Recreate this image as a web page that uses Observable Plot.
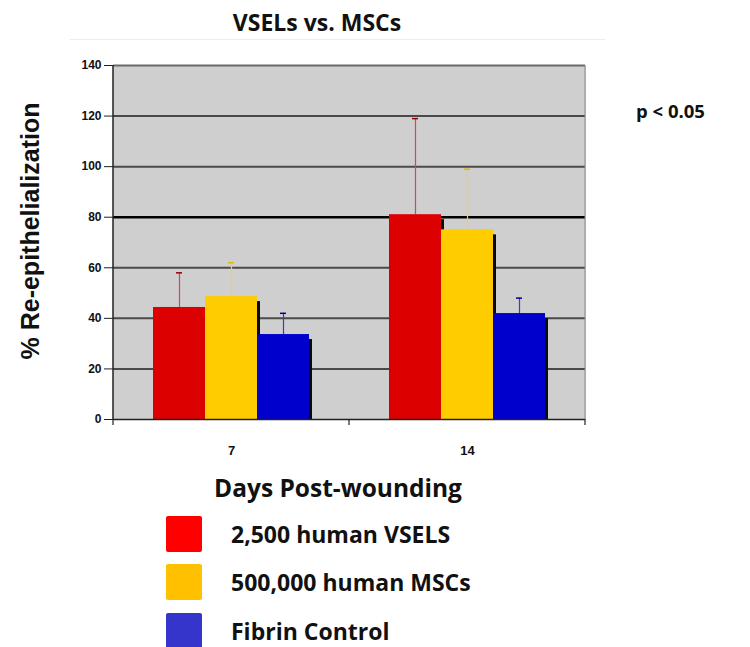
<!DOCTYPE html>
<html>
<head>
<meta charset="utf-8">
<script src="https://cdn.jsdelivr.net/npm/d3@7"></script>
<script src="https://cdn.jsdelivr.net/npm/@observablehq/plot@0.6"></script>
<style>
  html, body { margin: 0; padding: 0; background: #fff; }
  #wrap { position: relative; width: 750px; height: 647px; overflow: hidden; }
  #wrap svg { position: absolute; left: 0; top: 0; }
  .t { position: absolute; font-family: "Open Sans", sans-serif; font-weight: 700; color: #111; white-space: nowrap; }
  .sw { position: absolute; width: 36px; height: 36px; border-radius: 2px; }
</style>
</head>
<body>
<div id="wrap"></div>
<script>
// ---- data ----
const days = ["7", "14"];
const series = ["2,500 human VSELS", "500,000 human MSCs", "Fibrin Control"];
const values7 = [44.3, 48.6, 33.6];
const values14 = [81, 75, 41.9];
const errTop7 = [58, 62, 42];
const errTop14 = [119, 99, 48];
const yTicks = [0, 20, 40, 60, 80, 100, 120, 140];
const barColors = ["#dd0000", "#ffcc00", "#0000cc"];
const errColors = ["#d84848", "#f2d24a", "#3a3ad0"];
const capColors = ["#990000", "#e0b800", "#000099"];
const legendColors = ["#ff0000", "#ffc000", "#3535cc"];

const rows = [];
days.forEach((d, di) => {
  const vals = di === 0 ? values7 : values14;
  const tops = di === 0 ? errTop7 : errTop14;
  series.forEach((s, si) => rows.push({day: d, series: s, value: vals[si], upper: tops[si], si}));
});

const wrap = document.getElementById("wrap");

const plot = Plot.plot({
  width: 750,
  height: 647,
  marginLeft: 113,
  marginRight: 165,
  marginTop: 65,
  marginBottom: 228,
  style: {fontFamily: "'Liberation Sans', Arial, sans-serif", fontWeight: "bold", fontSize: "11px", color: "#111", background: "transparent"},
  fx: {domain: days, padding: 0, label: null},
  x: {domain: series, paddingInner: 0, paddingOuter: 0.74, axis: null},
  y: {domain: [0, 140], label: null},
  color: {domain: series, range: barColors},
  marks: [
    Plot.frame({fill: "#cfcfcf", stroke: null, shapeRendering: "crispEdges", inset: -0.5}),
    Plot.ruleY(yTicks.filter(t => t > 0 && t < 140 && t !== 80), {stroke: "#4a4a4a", strokeWidth: 2}),
    Plot.ruleY([80], {stroke: "#000", strokeWidth: 2.5}),
    Plot.ruleY([140], {stroke: "#6a6a6a", strokeWidth: 2}),
    Plot.ruleX(rows, {fx: "day", x: "series", y1: "value", y2: "upper", stroke: d => errColors[d.si], strokeWidth: 1.2}),
    Plot.tickY(rows, {fx: "day", x: "series", y: "upper", stroke: d => capColors[d.si], strokeWidth: 1.5, inset: 23}),
    Plot.barY(rows, {fx: "day", x: "series", y: "value", fill: "#0a0a0a", dx: 3, insetTop: 5}),
    Plot.barY(rows, {fx: "day", x: "series", y: "value", fill: "series"}),
    Plot.ruleY([0], {stroke: "#222", strokeWidth: 1.5}),
    Plot.axisY({ticks: yTicks, tickSize: 9, tickPadding: 3, stroke: "#222", fontSize: 12, fontWeight: "bold"}),
    Plot.axisFx({anchor: "bottom", tickSize: 0, tickPadding: 26, fontSize: 13, fontWeight: "bold", label: null})
  ]
});
wrap.appendChild(plot);

// axis lines and category boundary ticks, placed with the plot's own scales
const fx = plot.scale("fx"), y = plot.scale("y");
const svg = d3.select(plot);
const bw = fx.bandwidth;
const x0 = fx.apply(days[0]);
const xEnd = fx.apply(days[days.length - 1]) + bw;
const yTop = y.apply(140), yBot = y.apply(0);
svg.append("line").attr("x1", x0).attr("x2", x0).attr("y1", yTop).attr("y2", yBot)
  .attr("stroke", "#222").attr("stroke-width", 1.5);
svg.append("line").attr("x1", xEnd).attr("x2", xEnd).attr("y1", yTop).attr("y2", yBot)
  .attr("stroke", "#8a8a8a").attr("stroke-width", 1);
[x0, ...days.slice(1).map(d => fx.apply(d)), xEnd].forEach(px => {
  svg.append("line").attr("x1", px).attr("x2", px).attr("y1", yBot).attr("y2", yBot + 6)
    .attr("stroke", "#222").attr("stroke-width", 1.2);
});

// texts
function addText(txt, css) {
  const el = document.createElement("div");
  el.className = "t";
  el.textContent = txt;
  Object.assign(el.style, css);
  wrap.appendChild(el);
  return el;
}
addText("VSELs vs. MSCs", {left: "317px", top: "22px", fontSize: "23px", transform: "translate(-50%,-50%)"});
const line = document.createElement("div");
Object.assign(line.style, {position: "absolute", left: "70px", top: "39px", width: "535px", height: "1px", background: "#ececec"});
wrap.appendChild(line);
addText("p < 0.05", {left: "636px", top: "110px", fontSize: "18.5px", transform: "translateY(-50%)"});
addText("% Re-epithelialization", {left: "30px", top: "231px", fontSize: "25px", fontFamily: "'Liberation Sans', Arial, sans-serif", transform: "translate(-50%,-50%) rotate(-90deg)"});
addText("Days Post-wounding", {left: "338px", top: "487px", fontSize: "24.5px", transform: "translate(-50%,-50%)"});

const legendY = [534, 582, 631];
series.forEach((s, i) => {
  const sw = document.createElement("div");
  sw.className = "sw";
  Object.assign(sw.style, {left: "166px", top: (legendY[i] - 18) + "px", background: legendColors[i]});
  wrap.appendChild(sw);
  addText(s, {left: "231px", top: legendY[i] + "px", fontSize: "23px", transform: "translateY(-50%)"});
});
</script>
</body>
</html>
